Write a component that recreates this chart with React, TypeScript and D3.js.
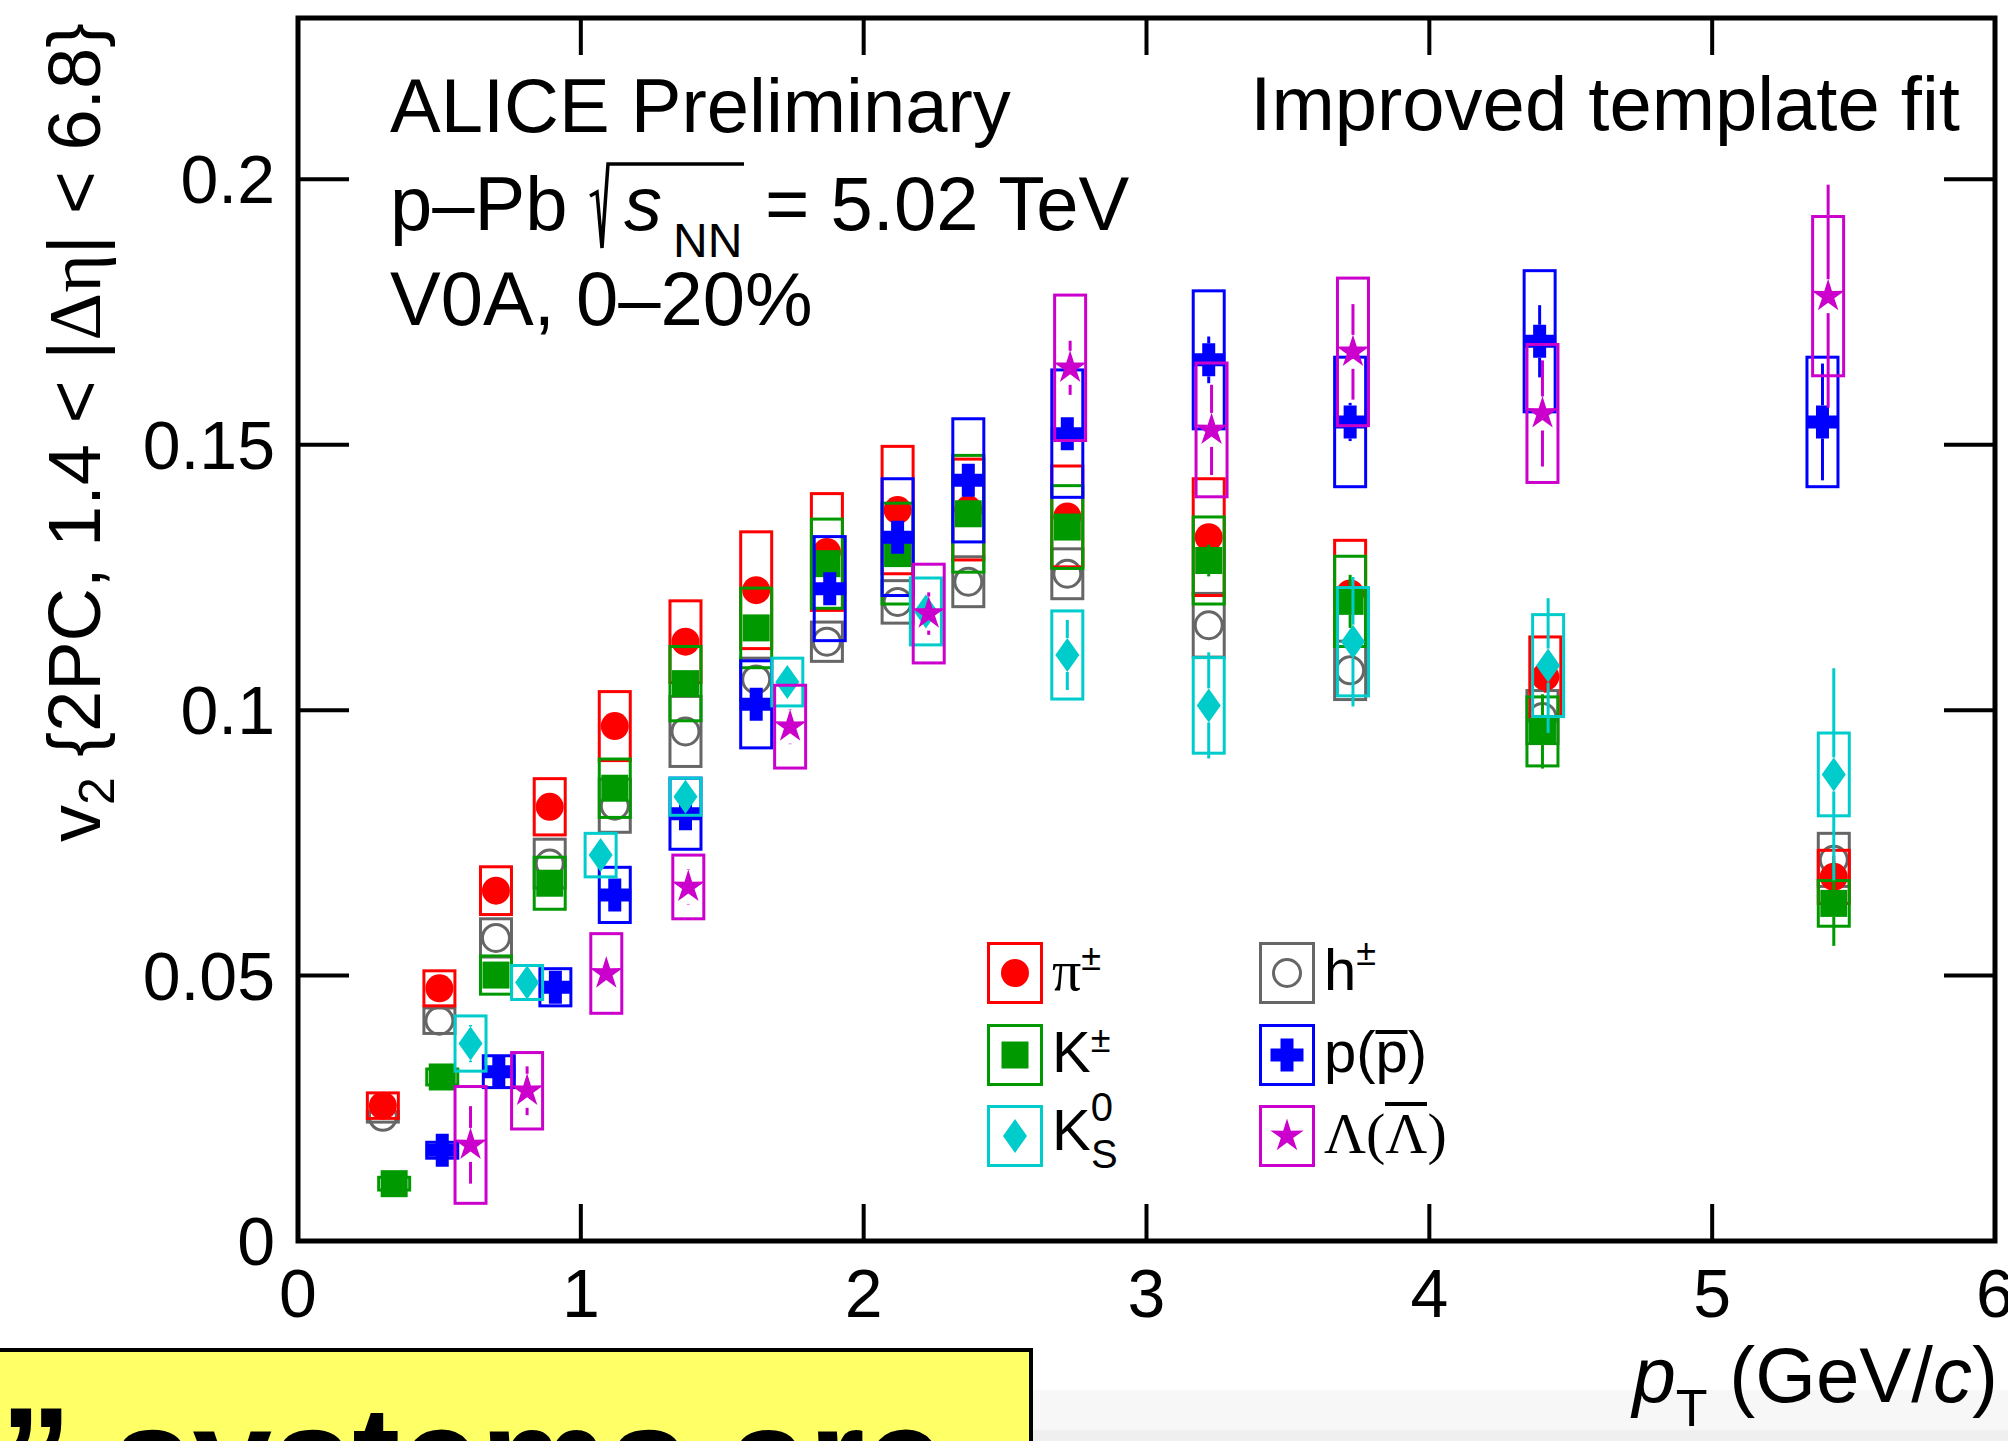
import React from 'react';
import * as d3 from 'd3';

// pi+- (red full circles)
const piPt = [0.30, 0.50, 0.70, 0.89, 1.12, 1.37, 1.62, 1.87, 2.12, 2.37, 2.72, 3.22, 3.72, 4.41, 5.43];
const piV2 = [0.0255, 0.0476, 0.0660, 0.0818, 0.0970, 0.1129, 0.1226, 0.1298, 0.1377, 0.1378, 0.1365, 0.1326, 0.1220, 0.1063, 0.0686];
const piStat = [0.0004, 0.0004, 0.0005, 0.0005, 0.0006, 0.0007, 0.0008, 0.0010, 0.0012, 0.0015, 0.0015, 0.0020, 0.0025, 0.0030, 0.0040];
const piSys = [0.0024, 0.0033, 0.0045, 0.0053, 0.0065, 0.0077, 0.0110, 0.0110, 0.0120, 0.0095, 0.0095, 0.0110, 0.0100, 0.0075, 0.0050];

// K+- (green full squares)
const kPt = [0.34, 0.51, 0.70, 0.89, 1.12, 1.37, 1.62, 1.87, 2.12, 2.37, 2.72, 3.22, 3.72, 4.40, 5.43];
const kV2 = [0.0108, 0.0309, 0.0501, 0.0674, 0.0853, 0.1050, 0.1155, 0.1276, 0.1295, 0.1370, 0.1345, 0.1282, 0.1205, 0.0960, 0.0636];
const kStat = [0.0005, 0.0006, 0.0007, 0.0008, 0.0010, 0.0012, 0.0014, 0.0016, 0.0018, 0.0020, 0.0020, 0.0030, 0.0050, 0.0070, 0.0080];
const kSys = [0.0012, 0.0015, 0.0036, 0.0049, 0.0055, 0.0070, 0.0075, 0.0084, 0.0095, 0.0110, 0.0078, 0.0082, 0.0085, 0.0065, 0.0043];

// h+- (grey open circles)
const hPt = [0.30, 0.50, 0.70, 0.89, 1.12, 1.37, 1.62, 1.87, 2.12, 2.37, 2.72, 3.22, 3.72, 4.40, 5.43];
const hV2 = [0.0234, 0.0415, 0.0571, 0.0711, 0.0820, 0.0960, 0.1058, 0.1129, 0.1204, 0.1242, 0.1257, 0.1160, 0.1075, 0.0987, 0.0718];
const hStat = [0.0003, 0.0003, 0.0003, 0.0004, 0.0004, 0.0005, 0.0005, 0.0006, 0.0006, 0.0007, 0.0008, 0.0010, 0.0012, 0.0015, 0.0020];
const hSys = [0.0010, 0.0024, 0.0036, 0.0046, 0.0050, 0.0066, 0.0040, 0.0037, 0.0040, 0.0047, 0.0047, 0.0060, 0.0055, 0.0050, 0.0050];

// p(pbar) (blue crosses)
const pPt = [0.51, 0.71, 0.91, 1.12, 1.37, 1.62, 1.88, 2.12, 2.37, 2.72, 3.22, 3.72, 4.39, 5.39];
const pV2 = [0.0171, 0.0319, 0.0478, 0.0652, 0.0805, 0.1011, 0.1229, 0.1326, 0.1433, 0.1521, 0.1660, 0.1543, 0.1695, 0.1543];
const pStat = [0.0008, 0.0009, 0.0010, 0.0012, 0.0014, 0.0016, 0.0018, 0.0020, 0.0022, 0.0020, 0.0044, 0.0036, 0.0068, 0.0110];
const pSys = [0.0015, 0.0030, 0.0035, 0.0052, 0.0067, 0.0082, 0.0098, 0.0110, 0.0116, 0.0120, 0.0130, 0.0122, 0.0133, 0.0122];

// K0s (cyan diamonds)
const ksPt = [0.61, 0.81, 1.07, 1.37, 1.73, 2.22, 2.72, 3.22, 3.73, 4.42, 5.43];
const ksV2 = [0.0372, 0.0487, 0.0727, 0.0837, 0.1053, 0.1186, 0.1104, 0.1009, 0.1129, 0.1084, 0.0879];
const ksStat = [0.0035, 0.0020, 0.0015, 0.0015, 0.0015, 0.0020, 0.0066, 0.0100, 0.0122, 0.0127, 0.0200];
const ksSys = [0.0052, 0.0032, 0.0041, 0.0035, 0.0045, 0.0063, 0.0083, 0.0090, 0.0102, 0.0096, 0.0078];

// Lambda (magenta stars)
const lamPt = [0.61, 0.81, 1.09, 1.38, 1.74, 2.23, 2.73, 3.23, 3.73, 4.40, 5.41];
const lamV2 = [0.0181, 0.0283, 0.0504, 0.0667, 0.0969, 0.1182, 0.1645, 0.1528, 0.1675, 0.1559, 0.1780];
const lamStat = [0.0073, 0.0046, 0.0030, 0.0033, 0.0033, 0.0040, 0.0051, 0.0085, 0.0090, 0.0100, 0.0210];
const lamSys = [0.0110, 0.0072, 0.0075, 0.0060, 0.0078, 0.0093, 0.0137, 0.0126, 0.0139, 0.0130, 0.0150];

const xTicks = [0, 1, 2, 3, 4, 5, 6];
const yTicks = [0, 0.05, 0.1, 0.15, 0.2];
const yTickLabels = ['0', '0.05', '0.1', '0.15', '0.2'];

const SANS = '"Liberation Sans", Arial, sans-serif';
const SERIF = '"Liberation Serif", "Times New Roman", serif';

const W = 2008, H = 1441;
const frame = {left: 298, right: 1995, top: 18, bottom: 1241};

const x = d3.scaleLinear().domain([0, 6]).range([frame.left, frame.right]);
const y = d3.scaleLinear().domain([0, 0.2304]).range([frame.bottom, frame.top]);

type MarkerType = 'circle' | 'openCircle' | 'square' | 'cross' | 'diamond' | 'star';

// half height of each marker, error bars are not drawn inside it
const markerHalf: Record<MarkerType, number> = {
    circle: 14, openCircle: 15, square: 13.5, cross: 16.5, diamond: 17, star: 17,
};

const starPath = (R: number, r: number) => {
    const pts: [number, number][] = [];
    for (let i = 0; i < 10; i++) {
        const a = -Math.PI / 2 + i * Math.PI / 5;
        const rad = i % 2 === 0 ? R : r;
        pts.push([rad * Math.cos(a), rad * Math.sin(a)]);
    }
    return d3.line()(pts) + 'Z';
};

const crossPath = (L: number, t: number) =>
    `M${-t},${-L}H${t}V${-t}H${L}V${t}H${t}V${L}H${-t}V${t}H${-L}V${-t}H${-t}Z`;

const Marker = ({type, color, cx, cy}: {type: MarkerType, color: string, cx: number, cy: number}) => {
    switch (type) {
        case 'circle':
            return <circle cx={cx} cy={cy} r={14} fill={color}/>;
        case 'openCircle':
            return <circle cx={cx} cy={cy} r={13.5} fill="none" stroke={color} strokeWidth={3}/>;
        case 'square':
            return <rect x={cx - 13.5} y={cy - 13.5} width={27} height={27} fill={color}/>;
        case 'cross':
            return <path transform={`translate(${cx},${cy})`} d={crossPath(16.5, 6.5)} fill={color}/>;
        case 'diamond':
            return <path transform={`translate(${cx},${cy})`} d="M0,-17L12,0L0,17L-12,0Z" fill={color}/>;
        case 'star':
            return <path transform={`translate(${cx},${cy})`} d={starPath(17.5, 6.5)} fill={color}/>;
    }
    return null;
};

const species = [
    {key: 'h', color: '#666666', marker: 'openCircle' as MarkerType, pt: hPt, v2: hV2, stat: hStat, sys: hSys},
    {key: 'pi', color: '#ff0000', marker: 'circle' as MarkerType, pt: piPt, v2: piV2, stat: piStat, sys: piSys},
    {key: 'k', color: '#009900', marker: 'square' as MarkerType, pt: kPt, v2: kV2, stat: kStat, sys: kSys},
    {key: 'p', color: '#0000ff', marker: 'cross' as MarkerType, pt: pPt, v2: pV2, stat: pStat, sys: pSys},
    {key: 'ks', color: '#00cccc', marker: 'diamond' as MarkerType, pt: ksPt, v2: ksV2, stat: ksStat, sys: ksSys},
    {key: 'lam', color: '#cc00cc', marker: 'star' as MarkerType, pt: lamPt, v2: lamV2, stat: lamStat, sys: lamSys},
];

const BOX_HW = 15.5;

const Series = ({s}: {s: typeof species[number]}) => {
    const gap = markerHalf[s.marker];
    return (
        <g>
            {s.pt.map((pt, i) => {
                const cx = x(pt), cy = y(s.v2[i]);
                const yHi = y(s.v2[i] + s.stat[i]), yLo = y(s.v2[i] - s.stat[i]);
                return (
                    <g key={i}>
                        <rect x={cx - BOX_HW} y={y(s.v2[i] + s.sys[i])} width={2 * BOX_HW}
                              height={y(s.v2[i] - s.sys[i]) - y(s.v2[i] + s.sys[i])}
                              fill="none" stroke={s.color} strokeWidth={3}/>
                        {yHi < cy - gap && <line x1={cx} x2={cx} y1={cy - gap} y2={yHi} stroke={s.color} strokeWidth={3}/>}
                        {yLo > cy + gap && <line x1={cx} x2={cx} y1={cy + gap} y2={yLo} stroke={s.color} strokeWidth={3}/>}
                        <Marker type={s.marker} color={s.color} cx={cx} cy={cy}/>
                    </g>
                );
            })}
        </g>
    );
};

// legend: column 1 pi, K, K0s ; column 2 h, p, Lambda
const legendCols = [1015, 1287];
const legendRows = [973, 1055, 1136];

const LegendBox = ({s, cx, cy}: {s: typeof species[number], cx: number, cy: number}) => (
    <g>
        <rect x={cx - 26.5} y={cy - 29.5} width={53} height={59} fill="none" stroke={s.color} strokeWidth={3}/>
        <Marker type={s.marker} color={s.color} cx={cx} cy={cy}/>
    </g>
);

const App = () => {
    const byKey = Object.fromEntries(species.map(s => [s.key, s]));
    const lx1 = legendCols[0] + 37, lx2 = legendCols[1] + 37;
    const fs = 58;
    return (
        <svg width={W} height={H} style={{position: 'absolute', left: 0, top: 0, display: 'block', background: '#fff'}}
             fontFamily={SANS}>
            <rect width={W} height={H} fill="#fff"/>

            {/* slide background strip under the axis title */}
            <rect x={1031} y={1390} width={W - 1031} height={H - 1390} fill="#f7f7f7"/>
            <rect x={1031} y={1430} width={W - 1031} height={H - 1430} fill="#efefef"/>

            {/* frame ticks */}
            {xTicks.map(t => (
                <g key={'xt' + t}>
                    <line x1={x(t)} x2={x(t)} y1={frame.bottom} y2={frame.bottom - 37} stroke="#000" strokeWidth={4}/>
                    <line x1={x(t)} x2={x(t)} y1={frame.top} y2={frame.top + 37} stroke="#000" strokeWidth={4}/>
                    <text x={x(t)} y={1317} fontSize={68} textAnchor="middle">{t}</text>
                </g>
            ))}
            {yTicks.map((t, i) => (
                <g key={'yt' + t}>
                    <line x1={frame.left} x2={frame.left + 51} y1={y(t)} y2={y(t)} stroke="#000" strokeWidth={4}/>
                    <line x1={frame.right} x2={frame.right - 51} y1={y(t)} y2={y(t)} stroke="#000" strokeWidth={4}/>
                    <text x={275} y={y(t) + 24} fontSize={68} textAnchor="end">{yTickLabels[i]}</text>
                </g>
            ))}

            {/* data */}
            {species.map(s => <Series key={s.key} s={s}/>)}

            <rect x={frame.left} y={frame.top} width={frame.right - frame.left} height={frame.bottom - frame.top}
                  fill="none" stroke="#000" strokeWidth={5}/>

            {/* y title */}
            <text transform="translate(100,23) rotate(-90)" fontSize={74} textAnchor="end">
                <tspan>v</tspan>
                <tspan fontSize={50} dy={14}>2</tspan>
                <tspan dy={-14}>{' {2PC, 1.4 < |'}</tspan>
                <tspan fontFamily={SERIF}>Δη</tspan>
                <tspan>{'| < 6.8}'}</tspan>
            </text>

            {/* x title */}
            <text x={1998} y={1402} fontSize={78} textAnchor="end">
                <tspan fontStyle="italic">p</tspan>
                <tspan fontSize={52} dy={24}>T</tspan>
                <tspan dy={-24}>{'  (GeV/'}</tspan>
                <tspan fontStyle="italic">c</tspan>
                <tspan>)</tspan>
            </text>

            {/* labels */}
            <text x={390} y={132} fontSize={76}>ALICE Preliminary</text>
            <text x={390} y={230} fontSize={76}>p–Pb</text>
            <path d="M590,196 L597,192 L602,248 L608,164 L744,164" fill="none" stroke="#000" strokeWidth={3.5}
                  strokeLinejoin="miter"/>
            <text x={624} y={230} fontSize={76} fontStyle="italic">s</text>
            <text x={673} y={257} fontSize={48}>NN</text>
            <text x={765} y={230} fontSize={76}>= 5.02 TeV</text>
            <text x={390} y={325} fontSize={76}>V0A, 0–20%</text>
            <text x={1960} y={130} fontSize={76} textAnchor="end">Improved template fit</text>

            {/* legend */}
            <LegendBox s={byKey.pi} cx={legendCols[0]} cy={legendRows[0]}/>
            <LegendBox s={byKey.k} cx={legendCols[0]} cy={legendRows[1]}/>
            <LegendBox s={byKey.ks} cx={legendCols[0]} cy={legendRows[2]}/>
            <LegendBox s={byKey.h} cx={legendCols[1]} cy={legendRows[0]}/>
            <LegendBox s={byKey.p} cx={legendCols[1]} cy={legendRows[1]}/>
            <LegendBox s={byKey.lam} cx={legendCols[1]} cy={legendRows[2]}/>

            <text x={lx1} y={legendRows[0] + 17} fontSize={fs}>
                <tspan fontFamily={SERIF}>π</tspan>
                <tspan fontSize={36} dy={-20}>±</tspan>
            </text>
            <text x={lx1} y={legendRows[1] + 17} fontSize={fs}>
                <tspan>K</tspan>
                <tspan fontSize={36} dy={-20}>±</tspan>
            </text>
            <text x={lx1} y={legendRows[2] + 14} fontSize={fs}>
                <tspan>K</tspan>
                <tspan fontSize={40} dy={-29}>0</tspan>
                <tspan fontSize={40} dx={-22} dy={47}>S</tspan>
            </text>
            <text x={lx2} y={legendRows[0] + 17} fontSize={fs}>
                <tspan>h</tspan>
                <tspan fontSize={36} dy={-25}>±</tspan>
            </text>
            <text x={lx2} y={legendRows[1] + 17} fontSize={fs}>p(p)</text>
            <line x1={lx2 + 51.5} x2={lx2 + 83.5} y1={legendRows[1] - 23} y2={legendRows[1] - 23} stroke="#000" strokeWidth={4}/>
            <text x={lx2} y={legendRows[2] + 17} fontSize={fs} fontFamily={SERIF}>Λ(Λ)</text>
            <line x1={lx2 + 61} x2={lx2 + 103} y1={legendRows[2] - 32} y2={legendRows[2] - 32} stroke="#000" strokeWidth={4}/>

            {/* slide overlay at bottom */}
            <rect x={-4} y={1350} width={1035} height={100} fill="#ffff66" stroke="#000" strokeWidth={4}/>
            <text x={0} y={1508} fontSize={144} fontWeight="bold">” systems are</text>
        </svg>
    );
};

export default App;
